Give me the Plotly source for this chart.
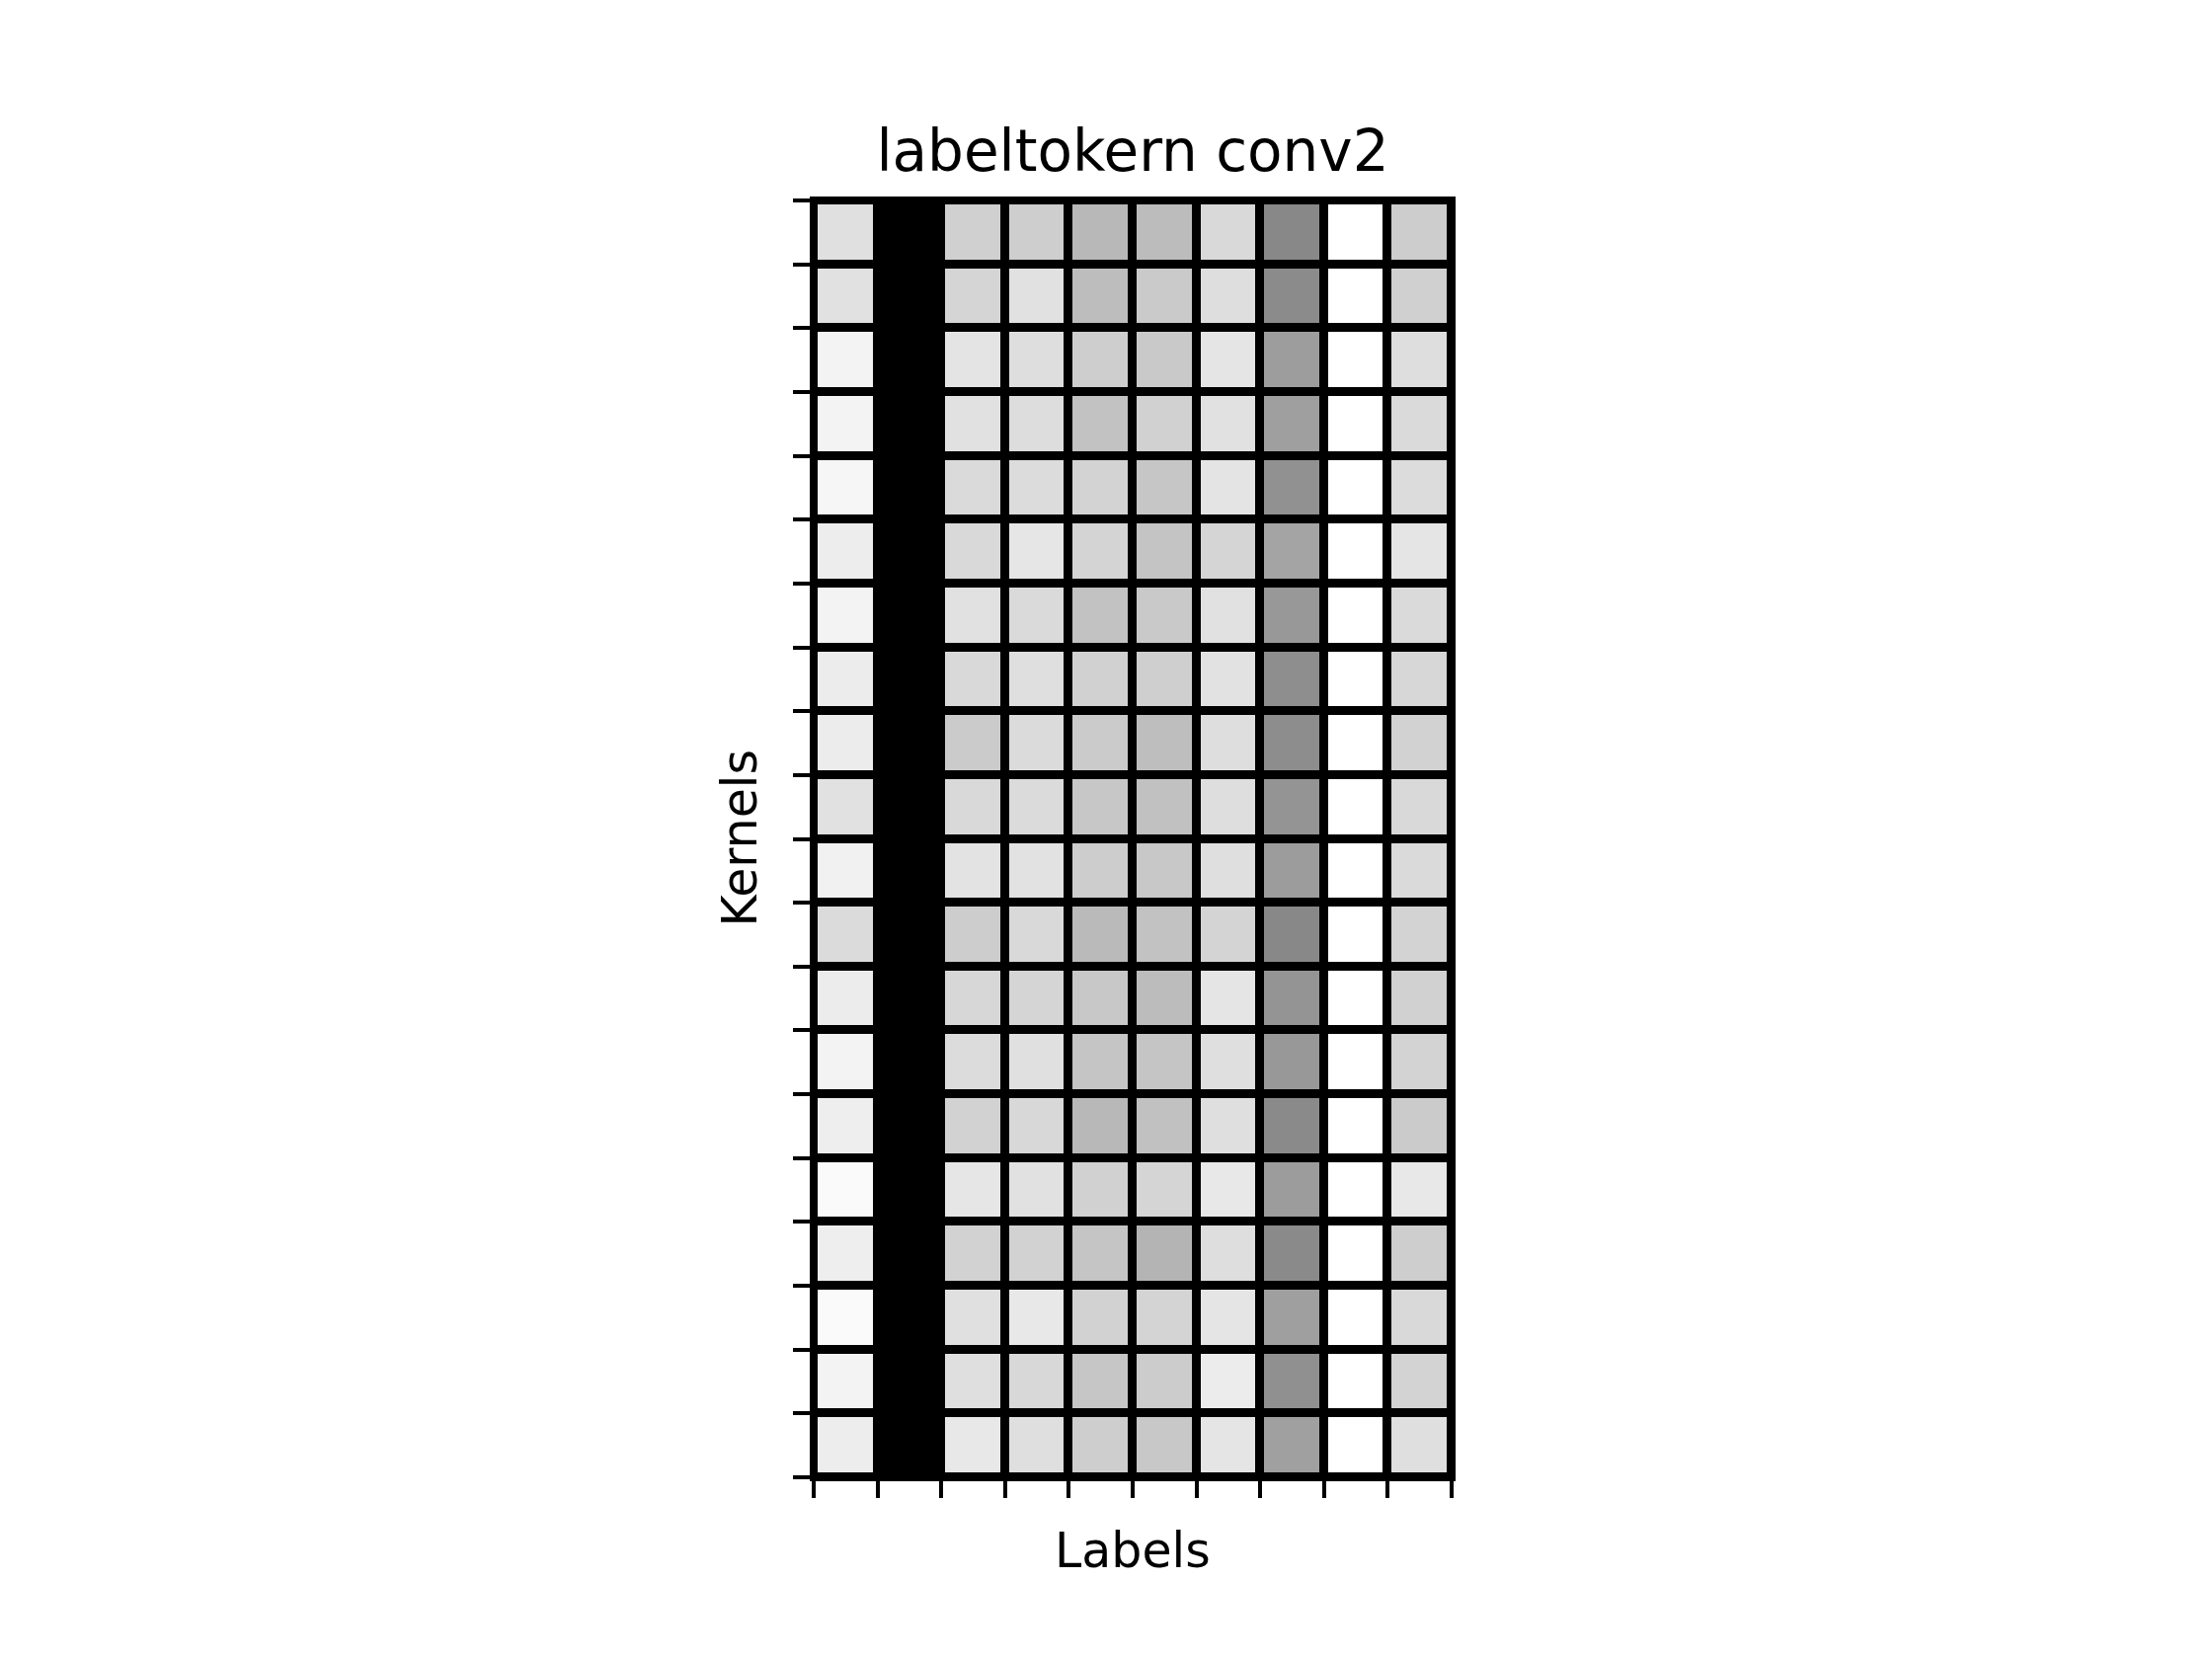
import plotly.graph_objects as go

title_text = "labeltokern conv2"
x_label = "Labels"
y_label = "Kernels"

n_labels = 10
n_kernels = 20

# grey intensity (0 = black, 255 = white); rows = kernels (top to bottom)
z = [
    [0xE0, 0x00, 0xD0, 0xCE, 0xB8, 0xBC, 0xD9, 0x88, 0xFF, 0xCD],
    [0xE1, 0x00, 0xD5, 0xE1, 0xBD, 0xCA, 0xDE, 0x8B, 0xFF, 0xD0],
    [0xF3, 0x00, 0xE4, 0xDE, 0xCE, 0xC9, 0xE5, 0x9D, 0xFF, 0xDE],
    [0xF3, 0x00, 0xE1, 0xDD, 0xC2, 0xD1, 0xE1, 0x9F, 0xFF, 0xDA],
    [0xF6, 0x00, 0xDA, 0xDC, 0xD3, 0xC6, 0xE4, 0x91, 0xFF, 0xDC],
    [0xED, 0x00, 0xD9, 0xE6, 0xD4, 0xC4, 0xD5, 0xA4, 0xFF, 0xE5],
    [0xF3, 0x00, 0xE1, 0xDA, 0xC2, 0xC9, 0xE1, 0x98, 0xFF, 0xDA],
    [0xEC, 0x00, 0xD9, 0xDF, 0xD1, 0xCF, 0xE2, 0x8E, 0xFF, 0xD7],
    [0xEC, 0x00, 0xCB, 0xDB, 0xCB, 0xBE, 0xDE, 0x8D, 0xFF, 0xD2],
    [0xE1, 0x00, 0xD9, 0xDB, 0xC7, 0xC1, 0xDE, 0x94, 0xFF, 0xD9],
    [0xF1, 0x00, 0xE3, 0xE2, 0xCD, 0xC8, 0xDF, 0x9C, 0xFF, 0xDA],
    [0xDB, 0x00, 0xCD, 0xD9, 0xBA, 0xC2, 0xD4, 0x88, 0xFF, 0xD3],
    [0xEC, 0x00, 0xD7, 0xD5, 0xC8, 0xBC, 0xE5, 0x94, 0xFF, 0xD1],
    [0xF3, 0x00, 0xDC, 0xE0, 0xC5, 0xC5, 0xDF, 0x98, 0xFF, 0xD3],
    [0xEE, 0x00, 0xD2, 0xD8, 0xB8, 0xC1, 0xDF, 0x8A, 0xFF, 0xCB],
    [0xFA, 0x00, 0xE6, 0xE1, 0xD1, 0xD5, 0xE8, 0x9C, 0xFF, 0xE8],
    [0xEE, 0x00, 0xD2, 0xD2, 0xC5, 0xB4, 0xDE, 0x8A, 0xFF, 0xCE],
    [0xFA, 0x00, 0xE0, 0xE8, 0xD2, 0xD4, 0xE5, 0x9F, 0xFF, 0xD9],
    [0xF3, 0x00, 0xDF, 0xD8, 0xC6, 0xCC, 0xEC, 0x90, 0xFF, 0xD3],
    [0xED, 0x00, 0xE8, 0xDF, 0xCE, 0xC8, 0xE5, 0xA0, 0xFF, 0xDF],
]

x_idx = list(range(n_labels))
y_idx = list(range(n_kernels))
x_ticks = [i - 0.5 for i in range(n_labels + 1)]
y_ticks = [i - 0.5 for i in range(n_kernels + 1)]

W, H = 2240, 1680
L, R, T, B = 824, 2240 - 1470, 203, 1680 - 1496

fig = go.Figure(
    go.Heatmap(
        z=z, x=x_idx, y=y_idx,
        colorscale=[[0, "rgb(0,0,0)"], [1, "rgb(255,255,255)"]],
        zmin=0, zmax=255, showscale=False,
        xgap=9, ygap=9, hoverinfo="skip",
    )
)

axis_common = dict(
    showgrid=False, zeroline=False, showline=True, linecolor="black",
    linewidth=4, mirror=True, ticks="outside", ticklen=17, tickwidth=4,
    tickcolor="black", showticklabels=False,
)
fig.update_xaxes(range=[-0.5, n_labels - 0.5], tickmode="array",
                 tickvals=x_ticks, **axis_common)
fig.update_yaxes(range=[n_kernels - 0.5, -0.5], tickmode="array",
                 tickvals=y_ticks, **axis_common)

font_family = "DejaVu Sans"
plot_h = 1680 - T - B
plot_w = 2240 - L - R

fig.update_layout(
    width=W, height=H, autosize=False,
    margin=dict(l=L, r=R, t=T, b=B, pad=0),
    paper_bgcolor="white", plot_bgcolor="black",
    font=dict(family=font_family, color="black"),
    title=dict(text=title_text, x=0.5, xref="paper", xanchor="center",
               y=1 - 153 / H, yanchor="middle", yref="container",
               font=dict(size=58, family=font_family, color="black")),
    annotations=[
        dict(text=x_label, xref="paper", yref="paper", x=0.5,
             y=(1496 - 1570) / plot_h, xanchor="center", yanchor="middle",
             showarrow=False, font=dict(size=49, family=font_family)),
        dict(text=y_label, xref="paper", yref="paper",
             x=(749 - L) / plot_w, y=0.5, xanchor="center", yanchor="middle",
             textangle=-90, showarrow=False,
             font=dict(size=49, family=font_family)),
    ],
)

fig.write_html("out.html")
